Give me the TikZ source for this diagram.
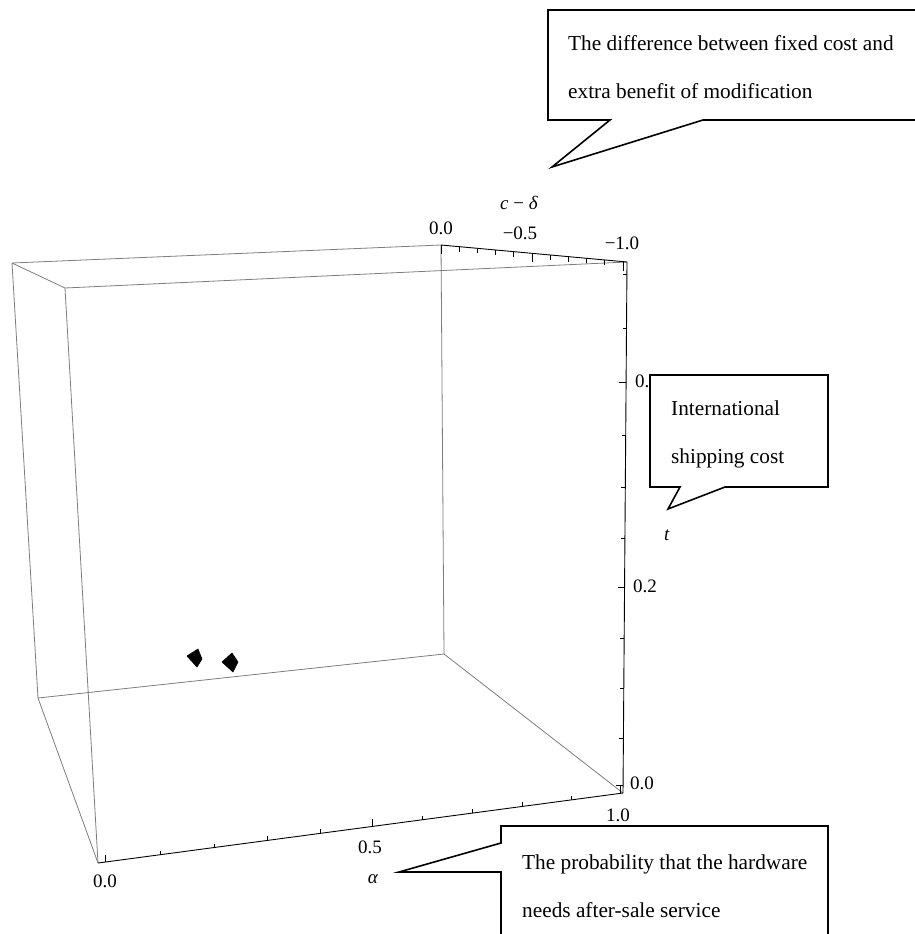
\documentclass[tikz,border=0pt]{standalone}
\usepackage{fontspec}
\setmainfont{Liberation Serif}
\definecolor{boxgray}{RGB}{125,125,125}
\begin{document}
\begin{tikzpicture}[x=1pt,y=-1pt,
  boxedge/.style={draw=boxgray,line width=0.8pt},
  axisline/.style={draw=black,line width=0.9pt},
  tickmark/.style={draw=black,line width=0.7pt},
  callout/.style={draw=black,fill=white,line width=1.6pt,line join=miter},
  calltext/.style={font=\fontsize{21.3}{25}\selectfont,anchor=base west,inner sep=0pt},
  ticklabel/.style={font=\fontsize{19}{22}\selectfont,inner sep=0pt},
  marker/.style={fill=black,draw=black,line width=0.6pt,line join=round}]
\useasboundingbox (0,0) rectangle (915,934);
\clip (0,0) rectangle (915,934);
% box vertices
\coordinate (A) at (12,263);
\coordinate (B) at (441,245);
\coordinate (C) at (627,262);
\coordinate (D) at (65,288);
\coordinate (Ab) at (38,698);
\coordinate (Bb) at (444,654);
\coordinate (Cb) at (623,793);
\coordinate (Db) at (98,863);
% gray box edges
\draw[boxedge] (A) -- (B);
\draw[boxedge] (A) -- (D);
\draw[boxedge] (D) -- (C);
\draw[boxedge] (A) -- (Ab);
\draw[boxedge] (D) -- (Db);
\draw[boxedge] (B) -- (Bb);
\draw[boxedge] (Ab) -- (Bb);
\draw[boxedge] (Ab) -- (Db);
\draw[boxedge] (Bb) -- (Cb);
% axes
\draw[axisline] (B) -- (C);
\draw[axisline] (C) -- (Cb);
\draw[axisline] (Db) -- (Cb);
% alpha ticks (upwards)
\foreach \xx [count=\i from 0] in {105,160,214,267,320,372,422,472,522,571,620} {
  \pgfmathsetmacro\yy{863-(\xx-98)/525*70}
  \pgfmathsetmacro\len{ifthenelse(mod(\i,5)==0,7,4)}
  \draw[tickmark] (\xx,\yy) -- ++(0,-\len);
}
% t ticks (to the left)
\foreach \yy [count=\i from 0] in {785,738,688,638,587,538,487,435,382,328,274} {
  \pgfmathsetmacro\xx{627-(\yy-262)/531*4}
  \pgfmathsetmacro\len{ifthenelse(mod(\i,4)==0,7,4)}
  \draw[tickmark] (\xx,\yy) -- ++(-\len,0);
}
% c - delta ticks (downwards)
\foreach \i in {0,...,10} {
  \pgfmathsetmacro\xx{441+18.2*\i}
  \pgfmathsetmacro\yy{245+(\xx-441)/186*17}
  \pgfmathsetmacro\len{ifthenelse(mod(\i,5)==0,9,5)}
  \draw[tickmark] (\xx,\yy) -- ++(0,\len);
}
% tick labels
\node[ticklabel] (cd0) at (441,228) {0.0};
\node[ticklabel] (cd1) at (520,233) {−0.5};
\node[ticklabel] (cd2) at (622,243) {−1.0};
\node[ticklabel] (cdlab) at (519,203) {\textit{c} − \textit{δ}};
\node[ticklabel,anchor=west] (t0) at (630,783) {0.0};
\node[ticklabel,anchor=west] (t1) at (633,586) {0.2};
\node[ticklabel,anchor=west] (t2) at (635,381) {0.4};
\node[ticklabel] (tlab) at (667,535) {\textit{t}};
\node[ticklabel] (a0) at (105,881) {0.0};
\node[ticklabel] (a1) at (370,847) {0.5};
\node[ticklabel] (a2) at (618,815) {1.0};
\node[ticklabel] (alab) at (373,879) {\textit{α}};
% data points
\fill[marker] (187,656) -- (198,649) -- (202,659) -- (197,667) -- cycle;
\fill[marker] (222,662) -- (232,653) -- (238,662) -- (233,672) -- cycle;
% callouts
\draw[callout] (548,10) -- (925,10) -- (925,120) -- (703,120) -- (552,167) -- (610,120) -- (548,120) -- cycle;
\node[calltext] (c1a) at (568,51) {The difference between fixed cost and};
\node[calltext] (c1b) at (568,99) {extra benefit of modification};
\draw[callout] (650,375) -- (828,375) -- (828,487) -- (725,487) -- (668,509) -- (680,487) -- (650,487) -- cycle;
\node[calltext] (c2a) at (671,415) {International};
\node[calltext] (c2b) at (671,463) {shipping cost};
\draw[callout] (501,826) -- (828,826) -- (828,945) -- (501,945) -- (501,872) -- (399,872) -- (501,843) -- cycle;
\node[calltext] (c3a) at (522,869) {The probability that the hardware};
\node[calltext] (c3b) at (522,917) {needs after-sale service};
\end{tikzpicture}
\end{document}
